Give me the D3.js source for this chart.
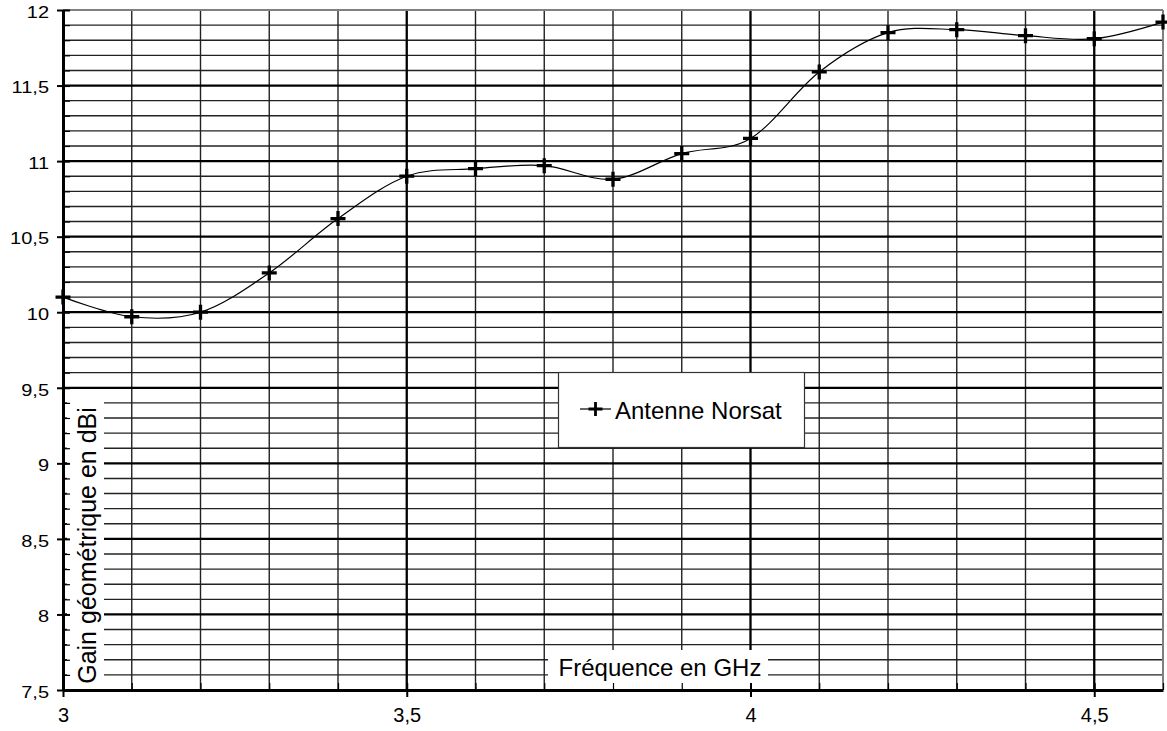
<!DOCTYPE html>
<html>
<head>
<meta charset="utf-8">
<script src="https://cdn.jsdelivr.net/npm/d3@7"></script>
<style>
  html, body { margin: 0; padding: 0; background: #fff; }
  svg { display: block; font-family: "Liberation Sans", Arial, sans-serif; }
</style>
</head>
<body>
<svg id="chart" width="1167" height="731"></svg>
<script>
// ---- data ----
const freq = [3.0, 3.1, 3.2, 3.3, 3.4, 3.5, 3.6, 3.7, 3.8, 3.9, 4.0, 4.1, 4.2, 4.3, 4.4, 4.5, 4.6];
const gain = [10.10, 9.97, 10.00, 10.26, 10.62, 10.90, 10.95, 10.97, 10.88, 11.05, 11.15, 11.59, 11.85, 11.87, 11.83, 11.81, 11.92];
const xMajorTicks = [3, 3.5, 4, 4.5];
const xMinorTicks = [3.0, 3.1, 3.2, 3.3, 3.4, 3.5, 3.6, 3.7, 3.8, 3.9, 4.0, 4.1, 4.2, 4.3, 4.4, 4.5, 4.6];
const yMajorTicks = [7.5, 8, 8.5, 9, 9.5, 10, 10.5, 11, 11.5, 12];
const yMinorTicks = [7.5, 7.6, 7.7, 7.8, 7.9, 8.0, 8.1, 8.2, 8.3, 8.4, 8.5, 8.6, 8.7, 8.8, 8.9, 9.0, 9.1, 9.2, 9.3, 9.4,
                     9.5, 9.6, 9.7, 9.8, 9.9, 10.0, 10.1, 10.2, 10.3, 10.4, 10.5, 10.6, 10.7, 10.8, 10.9, 11.0,
                     11.1, 11.2, 11.3, 11.4, 11.5, 11.6, 11.7, 11.8, 11.9, 12.0];
const xTitle = "Fréquence en GHz";
const yTitle = "Gain géométrique en dBi";
const seriesName = "Antenne Norsat";

// ---- layout ----
const W = 1167, H = 731;
const m = { left: 63, top: 10, right: 4, bottom: 41 };
const pw = W - m.left - m.right, ph = H - m.top - m.bottom;
const svg = d3.select("#chart");
const g = svg.append("g").attr("transform", `translate(${m.left},${m.top})`);

const x = d3.scaleLinear().domain([3, 4.6]).range([0, pw]);
const y = d3.scaleLinear().domain([7.5, 12]).range([ph, 0]);
const fmt = d => String(d).replace(".", ",");
const isMajor = (v, step) => Math.abs(v / step - Math.round(v / step)) < 1e-6;

// minor grid
g.append("g").selectAll("line").data(yMinorTicks.filter(v => !isMajor(v, 0.5)))
  .join("line").attr("x1", 0).attr("x2", pw).attr("y1", d => y(d)).attr("y2", d => y(d))
  .attr("stroke", "#222").attr("stroke-width", 1.4);
g.append("g").selectAll("line").data(xMinorTicks.filter(v => !isMajor(v, 0.5) && v < 4.6))
  .join("line").attr("y1", 0).attr("y2", ph).attr("x1", d => x(d)).attr("x2", d => x(d))
  .attr("stroke", "#222").attr("stroke-width", 1.4);
// major grid
g.append("g").selectAll("line").data(yMajorTicks.filter(v => v > 7.5 && v < 12))
  .join("line").attr("x1", 0).attr("x2", pw).attr("y1", d => y(d)).attr("y2", d => y(d))
  .attr("stroke", "#000").attr("stroke-width", 2.3);
g.append("g").selectAll("line").data(xMajorTicks.filter(v => v > 3))
  .join("line").attr("y1", 0).attr("y2", ph).attr("x1", d => x(d)).attr("x2", d => x(d))
  .attr("stroke", "#000").attr("stroke-width", 2.3);
// top / right border
g.append("line").attr("x1", 0).attr("x2", pw).attr("y1", y(12)).attr("y2", y(12))
  .attr("stroke", "#808080").attr("stroke-width", 2);
g.append("line").attr("x1", x(4.6)).attr("x2", x(4.6)).attr("y1", 0).attr("y2", ph)
  .attr("stroke", "#808080").attr("stroke-width", 2);

// axis titles with white backgrounds
g.append("rect").attr("x", 4).attr("y", 387).attr("width", 37).attr("height", ph - 387)
  .attr("fill", "#fff");
g.append("text").attr("transform", `translate(33,${(387 + ph) / 2 + 2}) rotate(-90)`)
  .attr("text-anchor", "middle").attr("font-size", 25).attr("fill", "#000").text(yTitle);
g.append("rect").attr("x", 485).attr("y", 640).attr("width", 220).attr("height", ph - 640)
  .attr("fill", "#fff");
g.append("text").attr("x", 597).attr("y", 666).attr("text-anchor", "middle")
  .attr("font-size", 24).attr("fill", "#000").text(xTitle);

// axes: inner ticks
const yInner = g.append("g").call(d3.axisLeft(y).tickValues(yMinorTicks).tickSize(-7).tickFormat(""));
yInner.select(".domain").remove();
yInner.selectAll(".tick line").attr("stroke", "#000")
  .attr("stroke-width", d => isMajor(d, 0.5) ? 2 : 1.2);
const xInner = g.append("g").attr("transform", `translate(0,${ph})`)
  .call(d3.axisBottom(x).tickValues(xMinorTicks).tickSize(-7).tickFormat(""));
xInner.select(".domain").remove();
xInner.selectAll(".tick line").attr("stroke", "#000")
  .attr("stroke-width", d => isMajor(d, 0.5) ? 2 : 1.2);

// axes: outer ticks + labels
const yAxis = g.append("g").call(d3.axisLeft(y).tickValues(yMajorTicks).tickSize(6).tickSizeOuter(0).tickFormat(fmt));
yAxis.select(".domain").attr("stroke", "#000").attr("stroke-width", 3);
yAxis.selectAll(".tick line").attr("stroke", "#000").attr("stroke-width", 2);
yAxis.selectAll(".tick text").attr("font-size", 20).attr("fill", "#000")
  .attr("x", -14).attr("y", 2.2).attr("transform", "scale(1,0.84)")
  .attr("font-family", "'Liberation Sans', Arial, sans-serif");
const xAxis = g.append("g").attr("transform", `translate(0,${ph})`)
  .call(d3.axisBottom(x).tickValues(xMajorTicks).tickSize(7).tickSizeOuter(0).tickFormat(fmt));
xAxis.select(".domain").attr("stroke", "#000").attr("stroke-width", 3);
xAxis.selectAll(".tick line").attr("stroke", "#000").attr("stroke-width", 2);
xAxis.selectAll(".tick text").attr("font-size", 20).attr("fill", "#000")
  .attr("y", 17.5).attr("font-family", "'Liberation Sans', Arial, sans-serif");

// series
const pts = freq.map((f, i) => [f, gain[i]]);
g.append("path").datum(pts)
  .attr("d", d3.line().x(d => x(d[0])).y(d => y(d[1])).curve(d3.curveCardinal.tension(0)))
  .attr("fill", "none").attr("stroke", "#000").attr("stroke-width", 1.2);
const arm = 7.5;
const plus = (sel, cx, cy, a, sw) => {
  sel.append("path").attr("d", `M${cx - a},${cy}H${cx + a}M${cx},${cy - a}V${cy + a}`)
    .attr("stroke", "#000").attr("stroke-width", sw).attr("fill", "none");
};
const mk = g.append("g");
pts.forEach(d => plus(mk, x(d[0]), y(d[1]), arm, 3.3));

// legend
const lg = svg.append("g");
lg.append("rect").attr("x", 558.5).attr("y", 372.5).attr("width", 246).attr("height", 75)
  .attr("fill", "#fff").attr("stroke", "#333").attr("stroke-width", 1.2);
lg.append("line").attr("x1", 580).attr("x2", 611).attr("y1", 409).attr("y2", 409)
  .attr("stroke", "#000").attr("stroke-width", 1.2);
plus(lg, 595.5, 409, 7, 2.8);
lg.append("text").attr("x", 615).attr("y", 419).attr("font-size", 24).attr("fill", "#000").text(seriesName);
</script>
</body>
</html>
